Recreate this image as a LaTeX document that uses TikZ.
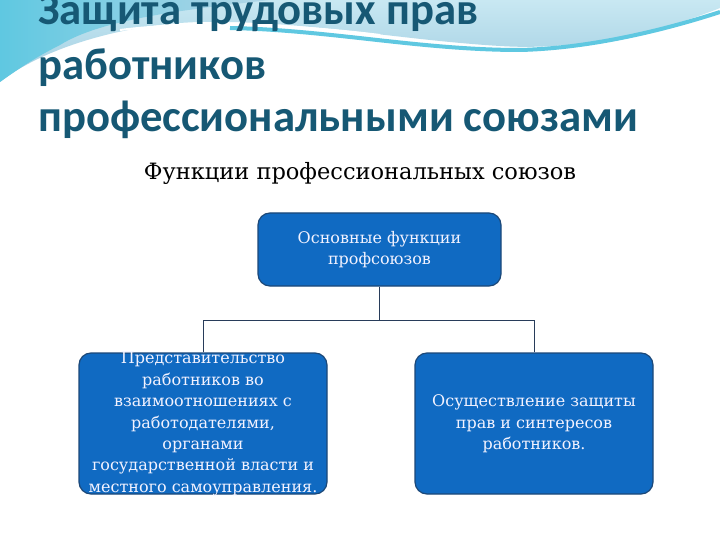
\documentclass[tikz,border=0pt]{standalone}
\usepackage{fontspec}
\setmainfont{DejaVu Serif}
\newfontfamily\titlefont{Carlito}
\usetikzlibrary{positioning}
\definecolor{titlecol}{RGB}{22,88,116}
\definecolor{boxfill}{RGB}{16,106,194}
\definecolor{boxline}{RGB}{28,72,120}
\definecolor{conncol}{RGB}{40,60,90}
\definecolor{wavelight}{RGB}{160,205,225}
\definecolor{wavecyan}{RGB}{95,200,225}
\definecolor{wavetop}{RGB}{200,232,242}
\tikzset{
  fbox/.style={draw=boxline, line width=1.2pt, fill=boxfill, rounded corners=12pt, inner sep=0pt},
  ftext/.style={text=white!95!blue, align=center, font=\fontsize{16}{21.4}\selectfont, inner sep=0pt},
  conn/.style={draw=conncol, line width=0.9pt},
  ttl/.style={anchor=base west, inner sep=0pt, text=titlecol, font=\titlefont\bfseries\fontsize{44.7}{53}\selectfont},
}
\begin{document}
\begin{tikzpicture}[x=1pt,y=-1pt]
\useasboundingbox (0,0) rectangle (720,540);
\fill[white] (0,0) rectangle (720,540);
% background wave
\shade[top color=wavetop, bottom color=wavelight] (0,0) -- (720,0) -- (720,8) .. controls (640,40) and (560,50) .. (500,46) .. controls (400,40) and (300,20) .. (200,22) .. controls (120,24) and (40,50) .. (0,82) -- cycle;
\shade[left color=wavecyan, right color=wavelight!80!white] (0,0) -- (270,0) .. controls (180,10) and (100,20) .. (60,45) .. controls (30,60) and (10,75) .. (0,82) -- cycle;
\draw[wavecyan, line width=4pt] (230,28) .. controls (330,30) and (420,50) .. (520,50) .. controls (600,48) and (680,25) .. (720,12);
\draw[white, line width=2pt] (120,30) .. controls (200,20) and (300,25) .. (380,35);
% title
\node[ttl] (t1) at (38,25) {Защита трудовых прав};
\node[ttl] (t2) at (38,80) {работников};
\node[ttl] (t3) at (38,132) {профессиональными союзами};
\node[anchor=base, inner sep=0pt, font=\fontsize{22.5}{28}\selectfont] (sub) at (360,180) {Функции профессиональных союзов};
% boxes
\node[fbox, minimum width=243pt, minimum height=73pt] (top) at (379.5,249.5) {};
\node[fbox, minimum width=248pt, minimum height=141pt] (left) at (203,423.5) {};
\node[fbox, minimum width=238pt, minimum height=141pt] (right) at (534,423.5) {};
\node[ftext] (topt) at (top) {Основные функции\\профсоюзов};
\node[ftext] (leftt) at (203,424) {Представительство\\работников во\\взаимоотношениях с\\работодателями,\\органами\\государственной власти и\\местного самоуправления.};
\node[ftext] (rightt) at (534,424) {Осуществление защиты\\прав и синтересов\\работников.};
% connectors
\coordinate (hl) at (0,320);
\draw[conn] (top.south) -- (top.south |- hl);
\draw[conn] (left.north) -- (left.north |- hl) -- (right.north |- hl) -- (right.north);
\end{tikzpicture}
\end{document}
